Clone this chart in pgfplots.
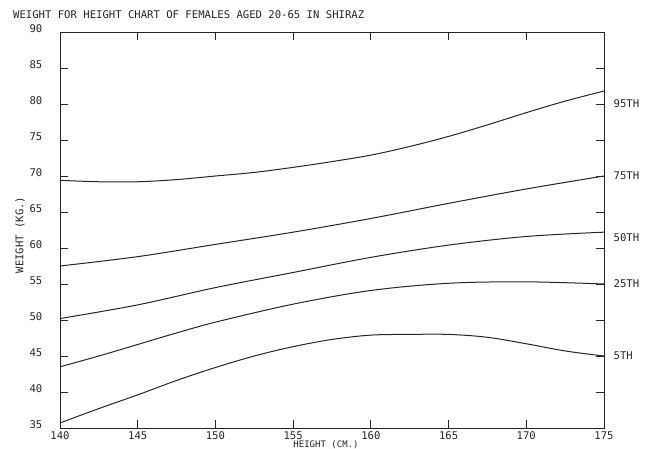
\documentclass[border=0pt]{standalone}
\usepackage{pgfplots}
\pgfplotsset{compat=1.18}
\usepackage{fontspec}
\setmainfont{DejaVu Sans Mono}
\definecolor{ink}{gray}{0.15}
\begin{document}
\fontsize{10.6bp}{12bp}\selectfont
\begin{tikzpicture}
\begin{axis}[
  scale only axis,
  width=544bp, height=396bp,
  xmin=140, xmax=175, ymin=35, ymax=90,
  xtick={140,145,...,175},
  ytick={35,40,...,90},
  tick align=inside,
  major tick length=8bp,
  axis line style={ink, line width=1bp},
  tick style={ink, line width=1bp},
  xtick pos=both, ytick pos=both,
  /pgf/number format/assume math mode=true,
  ticklabel style={font=\fontsize{10.6bp}{12bp}\selectfont, text=ink},
  yticklabel style={xshift=-14bp, yshift=3bp},
  xticklabel style={inner sep=1bp, yshift=-2.4bp},
  xticklabel pos=lower, yticklabel pos=left,
  clip=false,
]
\addplot[ink, line width=1bp, smooth, tension=0.55] coordinates {
(140,69.4) (142.5,69.2) (145,69.2) (147.5,69.5) (150,70.0) (152.5,70.5) (155,71.2) (157.5,72.0) (160,72.9) (162.5,74.1) (165,75.5) (167.5,77.1) (170,78.8) (172.5,80.4) (175,81.8)};
\addplot[ink, line width=1bp, smooth, tension=0.55] coordinates {
(140,57.5) (145,58.8) (150,60.5) (155,62.2) (160,64.1) (165,66.2) (170,68.2) (175,70.0)};
\addplot[ink, line width=1bp, smooth, tension=0.55] coordinates {
(140,50.2) (145,52.1) (150,54.5) (155,56.6) (160,58.7) (165,60.4) (170,61.6) (175,62.2)};
\addplot[ink, line width=1bp, smooth, tension=0.55] coordinates {
(140,43.5) (142.5,45.0) (145,46.6) (147.5,48.2) (150,49.7) (155,52.2) (160,54.1) (165,55.1) (170,55.3) (175,55.0)};
\addplot[ink, line width=1bp, smooth, tension=0.55] coordinates {
(140,35.7) (142.5,37.7) (145,39.6) (147.5,41.6) (150,43.4) (152.5,45.0) (155,46.3) (157.5,47.3) (160,47.9) (162.5,48.0) (165,48.0) (167.5,47.6) (170,46.7) (172.5,45.7) (175,45.0)};
\node[anchor=west, text=ink, xshift=6bp] at (axis cs:175,80.0) {95TH};
\node[anchor=west, text=ink, xshift=6bp] at (axis cs:175,70.0) {75TH};
\node[anchor=west, text=ink, xshift=6bp] at (axis cs:175,61.4) {50TH};
\node[anchor=west, text=ink, xshift=6bp] at (axis cs:175,55.1) {25TH};
\node[anchor=west, text=ink, xshift=6bp] at (axis cs:175,45.0) {5TH};
\end{axis}
\node[anchor=west, text=ink, inner sep=0pt] at (-47bp,413bp) {WEIGHT FOR HEIGHT CHART OF FEMALES AGED 20-65 IN SHIRAZ};
\node[rotate=90, text=ink, inner sep=0pt] at (-40bp,193bp) {WEIGHT (KG.)};
\node[anchor=base, text=ink, inner sep=0pt, font=\fontsize{9bp}{10bp}\selectfont] at (266bp,-19.5bp) {HEIGHT (CM.)};
\pgfresetboundingbox
\path[use as bounding box] (-60bp,-21bp) rectangle (593bp,428bp);
\end{tikzpicture}
\end{document}
